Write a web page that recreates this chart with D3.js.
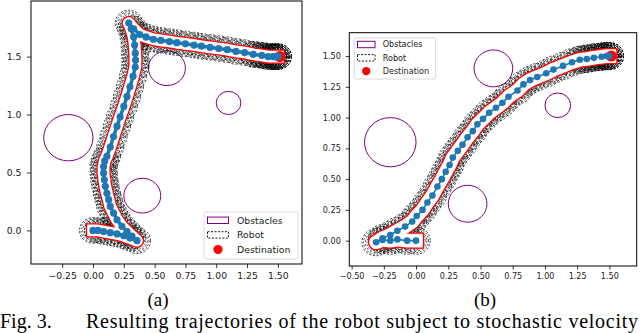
<!DOCTYPE html>
<html>
<head>
<meta charset="utf-8"/>
<title>Fig. 3 trajectories</title>
<script src="https://cdn.jsdelivr.net/npm/d3@7"></script>
<style>
  body { margin: 0; background: #fff; }
  svg { display: block; }
</style>
</head>
<body>
<div id="output"></div>
<script>
// obstacles (same field in both runs)
var obstacleX = [0.6, 1.1, -0.2, 0.4];
var obstacleY = [1.4, 1.1, 0.8, 0.3];
var obstacleR = [0.15, 0.1, 0.2, 0.15];
var destX = 1.5, destY = 1.5;

// run (a): robot positions
var pathAX = [0.00, 0.04, 0.086, 0.14, 0.195, 0.25, 0.30, 0.357, 0.316, 0.276, 0.235, 0.195, 0.167, 0.14, 0.127,
              0.113, 0.10, 0.092, 0.086, 0.086, 0.095, 0.113, 0.14, 0.167, 0.195, 0.22, 0.25, 0.276, 0.30, 0.325,
              0.343, 0.345, 0.343, 0.338, 0.33, 0.31, 0.29, 0.33, 0.38, 0.43, 0.49, 0.55, 0.62, 0.68, 0.75,
              0.82, 0.88, 0.95, 1.02, 1.09, 1.16, 1.23, 1.30, 1.37, 1.42, 1.46, 1.48, 1.50, 1.50];
var pathAY = [0.00, 0.00, -0.01, -0.02, -0.03, -0.046, -0.066, -0.089, -0.05, -0.01, 0.035, 0.092, 0.15, 0.207, 0.265,
              0.32, 0.38, 0.437, 0.495, 0.55, 0.60, 0.64, 0.72, 0.81, 0.90, 0.98, 1.07, 1.155, 1.24, 1.33,
              1.41, 1.47, 1.53, 1.60, 1.67, 1.74, 1.79, 1.74, 1.69, 1.67, 1.65, 1.64, 1.63, 1.62, 1.61,
              1.60, 1.59, 1.58, 1.57, 1.56, 1.545, 1.535, 1.52, 1.51, 1.50, 1.50, 1.50, 1.50, 1.50];
// extra robot poses piled up near the goal in run (a)
var holdAX = [1.30, 1.34, 1.38, 1.41, 1.44, 1.46, 1.48, 1.50];
var holdAY = [1.52, 1.515, 1.51, 1.505, 1.50, 1.50, 1.50, 1.50];

// run (b)
var pathBX = [0.00, -0.07, -0.145, -0.20, -0.26, -0.31, -0.26, -0.20, -0.145, -0.085, -0.03, 0.005, 0.05, 0.088,
              0.127, 0.166, 0.20, 0.23, 0.26, 0.285, 0.324, 0.36, 0.40, 0.44, 0.476, 0.52, 0.567, 0.62, 0.67,
              0.717, 0.787, 0.833, 0.885, 0.94, 1.01, 1.066, 1.14, 1.21, 1.27, 1.325, 1.38, 1.44, 1.48, 1.50, 1.50];
var pathBY = [0.00, 0.00, 0.01, 0.00, 0.005, -0.013, 0.02, 0.046, 0.08, 0.114, 0.155, 0.20, 0.25, 0.31,
              0.366, 0.44, 0.50, 0.56, 0.615, 0.675, 0.73, 0.78, 0.84, 0.89, 0.945, 0.99, 1.04, 1.08, 1.12,
              1.17, 1.22, 1.27, 1.305, 1.33, 1.36, 1.39, 1.42, 1.45, 1.47, 1.476, 1.487, 1.495, 1.50, 1.50, 1.50];
var holdBX = [1.28, 1.32, 1.36, 1.40, 1.43, 1.46, 1.48, 1.50];
var holdBY = [1.472, 1.48, 1.487, 1.492, 1.495, 1.498, 1.50, 1.50];

// tick values
var xTicksA = [-0.25, 0, 0.25, 0.5, 0.75, 1.0, 1.25, 1.5];
var yTicksA = [0, 0.5, 1.0, 1.5];
var xTicksB = [-0.5, -0.25, 0, 0.25, 0.5, 0.75, 1.0, 1.25, 1.5];
var yTicksB = [0, 0.25, 0.5, 0.75, 1.0, 1.25, 1.5];

var legendLabels = ["Obstacles", "Robot", "Destination"];
var robotRadii = [0.11, 0.097, 0.084, 0.071];
var robotDash = ["2.2,1.6", "1.6,1.8", "2,2.2", "1.4,1.6"];

var BLUE = "#1f77b4", PURPLE = "#800080";

var svg = d3.select("#output").append("svg")
    .attr("width", 640).attr("height", 333);

function drawPanel(cfg, px, py, hx, hy) {
    var x = d3.scaleLinear().domain(cfg.xd).range([cfg.left, cfg.right]);
    var y = d3.scaleLinear().domain(cfg.yd).range([cfg.bottom, cfg.top]);
    var g = svg.append("g");

    g.append("clipPath").attr("id", "clip" + cfg.id)
      .append("rect")
        .attr("x", cfg.left).attr("y", cfg.top)
        .attr("width", cfg.right - cfg.left).attr("height", cfg.bottom - cfg.top);
    var plot = g.append("g").attr("clip-path", "url(#clip" + cfg.id + ")");

    var pts = px.map(function(v, i) { return [v, py[i]]; });
    var poses = pts.concat(hx.map(function(v, i) { return [v, hy[i]]; }));

    // obstacles
    plot.selectAll("ellipse.obs")
        .data(obstacleX.map(function(v, i) { return [v, obstacleY[i], obstacleR[i]]; }))
        .enter().append("ellipse")
        .attr("cx", function(d) { return x(d[0]); })
        .attr("cy", function(d) { return y(d[1]); })
        .attr("rx", function(d) { return x(d[2]) - x(0); })
        .attr("ry", function(d) { return y(0) - y(d[2]); })
        .attr("fill", "none").attr("stroke", PURPLE).attr("stroke-width", 1);

    // robot outlines (dashed)
    robotRadii.forEach(function(r, k) {
        plot.append("g").selectAll("ellipse")
            .data(poses).enter().append("ellipse")
            .attr("cx", function(d) { return x(d[0]); })
            .attr("cy", function(d) { return y(d[1]); })
            .attr("rx", x(r) - x(0))
            .attr("ry", y(0) - y(r))
            .attr("fill", "none").attr("stroke", "#000")
            .attr("stroke-width", 0.75)
            .attr("stroke-dasharray", robotDash[k]);
    });

    var line = d3.line().x(function(d) { return x(d[0]); }).y(function(d) { return y(d[1]); });

    // red band around the path
    plot.append("path").attr("d", line(pts))
        .attr("fill", "none").attr("stroke", "red")
        .attr("stroke-width", cfg.band * 2 + 1.3)
        .attr("stroke-linejoin", "round").attr("stroke-linecap", "square");
    plot.append("path").attr("d", line(pts))
        .attr("fill", "none").attr("stroke", "#fff")
        .attr("stroke-width", cfg.band * 2 - 1.3)
        .attr("stroke-linejoin", "round").attr("stroke-linecap", "square");

    // destination
    plot.append("circle")
        .attr("cx", x(destX) + 2).attr("cy", y(destY))
        .attr("r", 5.5).attr("fill", "red");

    // path
    plot.append("path").attr("d", line(pts))
        .attr("fill", "none").attr("stroke", BLUE)
        .attr("stroke-width", cfg.lineW).attr("stroke-linejoin", "round");
    plot.selectAll("circle.dot").data(pts).enter().append("circle")
        .attr("cx", function(d) { return x(d[0]); })
        .attr("cy", function(d) { return y(d[1]); })
        .attr("r", cfg.dotR).attr("fill", BLUE);

    // frame
    g.append("rect")
        .attr("x", cfg.left).attr("y", cfg.top)
        .attr("width", cfg.right - cfg.left).attr("height", cfg.bottom - cfg.top)
        .attr("fill", "none").attr("stroke", "#000").attr("stroke-width", 1);

    // axes
    var xa = g.append("g").attr("transform", "translate(0," + cfg.bottom + ")")
        .call(d3.axisBottom(x).tickValues(cfg.xt).tickFormat(d3.format(".2f"))
              .tickSize(cfg.tick).tickPadding(cfg.xpad));
    var ya = g.append("g").attr("transform", "translate(" + cfg.left + ",0)")
        .call(d3.axisLeft(y).tickValues(cfg.yt).tickFormat(d3.format(cfg.yfmt))
              .tickSize(cfg.tick).tickPadding(cfg.ypad));
    [xa, ya].forEach(function(a) {
        a.select(".domain").remove();
        a.selectAll("text").attr("font-family", "DejaVu Sans").attr("font-size", cfg.font).attr("fill", "#222");
        a.selectAll("line").attr("stroke", "#000").attr("stroke-width", 0.8);
    });

    // legend
    var L = cfg.legend;
    var lg = g.append("g");
    lg.append("rect")
        .attr("x", L.x).attr("y", L.y).attr("width", L.w).attr("height", L.h)
        .attr("rx", 2).attr("fill", "#fff").attr("fill-opacity", 0.85)
        .attr("stroke", "#d0d0d0").attr("stroke-width", 0.8);
    legendLabels.forEach(function(lab, i) {
        var cy = L.y + L.first + i * L.step;
        if (i === 0) {
            lg.append("rect").attr("x", L.hx).attr("y", cy - 3.2).attr("width", L.hw).attr("height", 6.4)
              .attr("fill", "#fff").attr("stroke", PURPLE).attr("stroke-width", 1);
        } else if (i === 1) {
            lg.append("rect").attr("x", L.hx).attr("y", cy - 3.2).attr("width", L.hw).attr("height", 6.4)
              .attr("fill", "#fff").attr("stroke", "#000").attr("stroke-width", 0.9)
              .attr("stroke-dasharray", "2,1.5");
        } else {
            lg.append("circle").attr("cx", L.hx + L.hw / 2).attr("cy", cy).attr("r", L.dot).attr("fill", "red");
        }
        lg.append("text").attr("x", L.tx).attr("y", cy).attr("dy", "0.35em")
          .attr("font-family", "DejaVu Sans").attr("font-size", cfg.font).attr("fill", "#222")
          .text(lab);
    });
}

drawPanel({id: "a", left: 31, right: 302, top: 1, bottom: 264,
           xd: [-0.503, 1.696], yd: [-0.29, 1.98],
           xt: xTicksA, yt: yTicksA, yfmt: ".1f",
           tick: 4, xpad: 4, ypad: 5.5, font: 9.3, band: 6.5, lineW: 3.5, dotR: 3.6,
           legend: {x: 204, y: 212, w: 94, h: 47, first: 8.3, step: 14.6, hx: 207.5, hw: 21, dot: 4.6, tx: 237}},
          pathAX, pathAY, holdAX, holdAY);

drawPanel({id: "b", left: 349.3, right: 636.7, top: 32.7, bottom: 266,
           xd: [-0.518, 1.712], yd: [-0.206, 1.69],
           xt: xTicksB, yt: yTicksB, yfmt: ".2f",
           tick: 3.5, xpad: 3.5, ypad: 5, font: 8.1, band: 7.5, lineW: 1.6, dotR: 3.3,
           legend: {x: 354.3, y: 37.7, w: 81.4, h: 41.3, first: 6.8, step: 13.3, hx: 357.5, hw: 17.5, dot: 4.2, tx: 382.7}},
          pathBX, pathBY, holdBX, holdBY);

// sub-captions and figure caption
svg.append("text").attr("x", 158).attr("y", 306).attr("text-anchor", "middle")
    .attr("font-family", "Liberation Serif").attr("font-size", 19).text("(a)");
svg.append("text").attr("x", 485).attr("y", 306).attr("text-anchor", "middle")
    .attr("font-family", "Liberation Serif").attr("font-size", 19).text("(b)");
svg.append("text").attr("x", 0).attr("y", 328)
    .attr("font-family", "Liberation Serif").attr("font-size", 20).text("Fig. 3.");
svg.append("text").attr("x", 86).attr("y", 328)
    .attr("font-family", "Liberation Serif").attr("font-size", 20)
    .attr("textLength", 552).attr("lengthAdjust", "spacing")
    .text("Resulting trajectories of the robot subject to stochastic velocity");
</script>
</body>
</html>
